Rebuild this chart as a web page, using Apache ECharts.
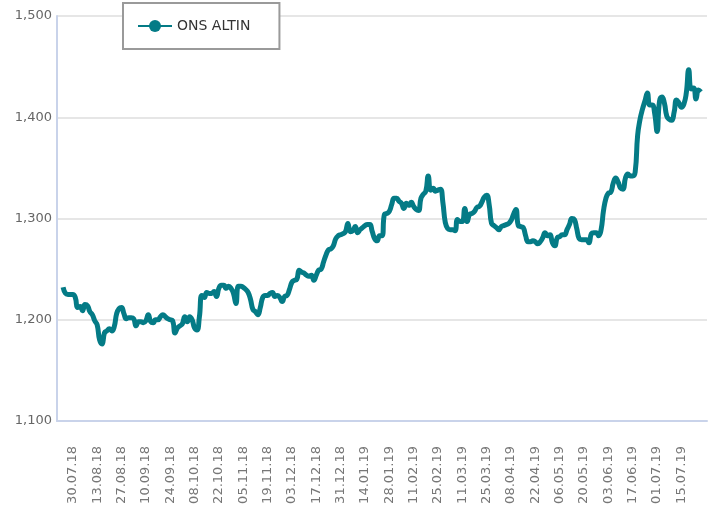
<!DOCTYPE html>
<html>
<head>
<meta charset="UTF-8">
<title>ONS ALTIN</title>
<script src="https://cdn.jsdelivr.net/npm/echarts@6.0.0/dist/echarts.min.js"></script>
<style>
  html, body { margin: 0; padding: 0; background: #fff; }
  #main { width: 721px; height: 527px; }
</style>
</head>
<body>
<div id="main"></div>
<script type="text/javascript">
// series name
var seriesName = 'ONS ALTIN';

// first category day (weekdays only), and how many categories
var startDay = new Date(2018, 6, 20);
var dayCount = 267;

// gold price per weekday (null = no point)
var prices = [
  null, null, 1232, 1226, 1225, 1225, 1225, 1222, 1212, 1213,
  1209, 1215, 1214, 1208, 1205, 1199, 1195, 1180, 1176, 1187,
  1189, 1191, 1189, 1193, 1206, 1211, 1212, 1206, 1201, 1202,
  1202, 1201, 1194, 1198, 1198, 1197, 1199, 1205, 1198, 1197,
  1200, 1200, 1203, 1205, 1203, 1201, 1200, 1199, 1187, 1192,
  1194, 1196, 1203, 1198, 1203, 1200, 1192, 1190, 1203, 1224,
  1222, 1227, 1226, 1226, 1228, 1223, 1231, 1234, 1234, 1231,
  1233, 1231, 1226, 1216, 1233, 1233, 1232, 1230, 1227, 1220,
  1210, 1208, 1205, 1212, 1222, 1224, 1224, 1226, 1227, 1223,
  1224, 1222, 1218, 1223, 1224, 1230, 1237, 1239, 1240, 1249,
  1247, 1246, 1244, 1243, 1244, 1239, 1244, 1249, 1250, 1257,
  1264, 1269, 1270, 1273, 1280, 1283, 1284, 1285, 1287, 1295,
  1287, 1288, 1292, 1286, 1289, 1291, 1293, 1294, 1294, 1287,
  1280, 1278, 1283, 1283, 1304, 1305, 1307, 1314, 1320, 1320,
  1317, 1315, 1310, 1315, 1313, 1316, 1312, 1309, 1308, 1320,
  1324, 1327, 1342, 1328, 1330, 1327, 1328, 1329, 1316, 1296,
  1290, 1289, 1289, 1288, 1299, 1297, 1297, 1310, 1297, 1304,
  1305, 1307, 1311, 1312, 1316, 1321, 1323, 1314, 1295, 1293,
  1291, 1289, 1292, 1293, 1294, 1295, 1298, 1304, 1309, 1293,
  1292, 1291, 1283, 1277, 1277, 1278, 1277, 1275, 1277, 1281,
  1286, 1283, 1284, 1276, 1273, 1281, 1282, 1284, 1284, 1289,
  1294, 1300, 1299, 1290, 1280, 1279, 1279, 1279, 1276, 1285,
  1286, 1286, 1283, 1289, 1308, 1320, 1325, 1326, 1335, 1340,
  1336, 1330, 1329, 1340, 1344, 1342, 1342, 1346, 1382, 1398,
  1408, 1416, 1424, 1412, 1412, 1404, 1386, 1416, 1420, 1414,
  1401, 1398, 1397, 1405, 1417, 1414, 1410, 1413, 1424, 1447,
  1428, 1429, 1418, 1427, 1425, null, null
];

// y axis range
var yMin = 1100;
var yMax = 1500;
var yStep = 100;

// first and last labelled category, label step
var firstLabel = 6;
var lastLabel = 256;
var labelStep = 10;

function pad(n) { return (n < 10 ? '0' : '') + n; }

var dates = [];
var d = new Date(startDay.getTime());
while (dates.length < dayCount) {
  var wd = d.getDay();
  if (wd !== 0 && wd !== 6) {
    dates.push(pad(d.getDate()) + '.' + pad(d.getMonth() + 1) + '.' + String(d.getFullYear()).slice(2));
  }
  d.setDate(d.getDate() + 1);
}

function showIdx(idx) {
  return idx >= firstLabel && idx <= lastLabel && (idx - firstLabel) % labelStep === 0;
}

var myChart = echarts.init(document.getElementById('main'));

var option = {
  animation: false,
  backgroundColor: '#fff',
  legend: {
    left: 123,
    top: 3,
    padding: [16, 29, 16, 14],
    itemWidth: 34,
    itemHeight: 15,
    borderColor: '#9a9a9a',
    borderWidth: 2,
    borderRadius: 0,
    backgroundColor: '#fff',
    textStyle: { color: '#333', fontSize: 14, fontFamily: 'DejaVu Sans' },
    data: [seriesName]
  },
  grid: { left: 57, right: 14, top: 16, bottom: 106 },
  xAxis: {
    type: 'category',
    data: dates,
    boundaryGap: true,
    axisLine: { lineStyle: { color: '#c9d3ea', width: 2 } },
    axisTick: { alignWithLabel: true, interval: showIdx, length: 9, lineStyle: { color: '#c9d3ea', width: 2 } },
    axisLabel: {
      interval: showIdx,
      rotate: 90,
      margin: 25,
      color: '#777',
      fontSize: 13,
      fontFamily: 'DejaVu Sans'
    },
    splitLine: { show: false }
  },
  yAxis: {
    type: 'value',
    min: yMin,
    max: yMax,
    interval: yStep,
    axisLine: { show: true, lineStyle: { color: '#c9d3ea', width: 2 } },
    axisTick: { show: false },
    axisLabel: {
      margin: 5,
      color: '#666',
      fontSize: 13,
      fontFamily: 'DejaVu Sans',
      formatter: function (v) { return v.toLocaleString('en-US'); }
    },
    splitLine: { lineStyle: { color: '#e6e6e6', width: 2 } }
  },
  series: [{
    name: seriesName,
    type: 'line',
    data: prices,
    smooth: true,
    symbol: 'circle',
    symbolSize: 15,
    showSymbol: false,
    itemStyle: { color: '#047b86' },
    lineStyle: { color: '#047b86', width: 5 }
  }]
};

myChart.setOption(option);
</script>
</body>
</html>
